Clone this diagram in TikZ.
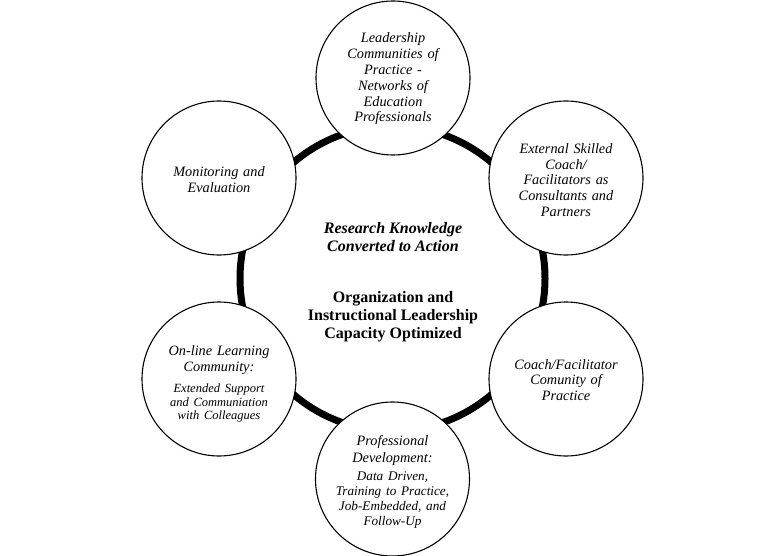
\documentclass[tikz,border=0pt]{standalone}
\usepackage{fontspec}
\setmainfont{Liberation Serif}
\begin{document}
\begin{tikzpicture}[x=1pt,y=-1pt,
  bubble/.style={circle,draw=black,fill=white,line width=1.1pt,minimum size=154pt,inner sep=0pt},
  txt/.style={text width=150pt,align=center,inner sep=0pt,
     font=\fontsize{14.3}{15.8}\selectfont\itshape},
  ctext/.style={align=center,inner sep=0pt}]
\useasboundingbox (0,0) rectangle (784,556);
\coordinate (c) at (392.5,278.5);
\node[circle,draw=black,line width=7pt,minimum size=305pt,inner sep=0pt] (ring) at (c) {};
\node[bubble] (lead) at (393,78) {};
\node[bubble] (ext) at (566,178) {};
\node[bubble] (coach) at (566,379) {};
\node[bubble] (prof) at (392.5,479) {};
\node[bubble] (online) at (219,379) {};
\node[bubble] (mon) at (219,178) {};
\node[txt] (leadt) at (393,79) {Leadership\\Communities of\\Practice -\\Networks of\\Education\\Professionals\par};
\node[txt] (extt) at (566,180) {External Skilled\\Coach/\\Facilitators as\\Consultants and\\Partners\par};
\node[txt] (coacht) at (566,380) {Coach/Facilitator\\Comunity of\\Practice\par};
\node[txt] (proft) at (392.5,482) {\fontsize{14.3}{16.6}\selectfont Professional\\Development:\par\vspace{3.5pt}\fontsize{13.2}{14.9}\selectfont Data Driven,\\Training to Practice,\\Job-Embedded, and\\Follow-Up\par};
\node[txt] (onlinet) at (219,384) {On-line Learning\\Community:\par\vspace{8pt}\fontsize{12.5}{13.6}\selectfont Extended Support\\and Communiation\\with Colleagues\par};
\node[txt] (mont) at (219,180) {Monitoring and\\Evaluation\par};
\node[ctext,font=\fontsize{16}{18}\selectfont\bfseries\itshape] (research) at (393,237) {Research Knowledge\\Converted to Action};
\node[ctext,font=\fontsize{16}{18}\selectfont\bfseries] (org) at (393,316.5) {Organization and\\Instructional Leadership\\Capacity Optimized};
\end{tikzpicture}
\end{document}
